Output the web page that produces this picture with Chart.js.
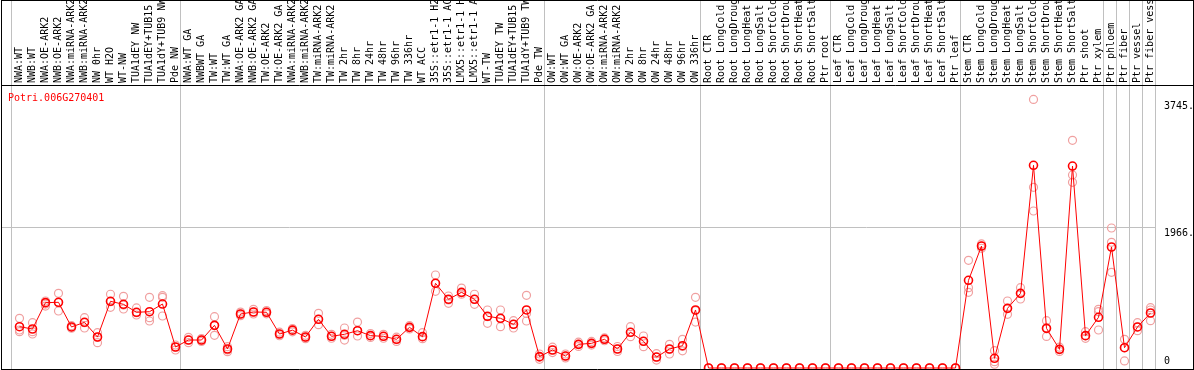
<!DOCTYPE html>
<html><head><meta charset="utf-8">
<script src="https://cdn.jsdelivr.net/npm/chart.js@4/dist/chart.umd.min.js"></script>
<style>html,body{margin:0;padding:0;background:#fff;overflow:hidden}canvas{display:block}</style>
</head><body>
<canvas id="c" width="1194" height="370"></canvas>
<script>
// ---------------- data ----------------
const geneTitle = 'Potri.006G270401';

const categories = [
  'NWA:WT','NWB:WT','NWA:OE-ARK2','NWB:OE-ARK2','NWA:miRNA-ARK2','NWB:miRNA-ARK2','NW 0hr','WT H2O','WT-NW',
  'TUA1dEY NW','TUA1dEY+TUB15','TUA1dY+TUB9 NW','Pde NW',
  'NWA:WT GA','NWBWT GA','TW:WT','TW:WT GA','NWA:OE-ARK2 GA','NWB:OE-ARK2 GA','TW:OE-ARK2','TW:OE-ARK2 GA',
  'NWA:miRNA-ARK2','NWB:miRNA-ARK2','TW:miRNA-ARK2','TW:miRNA-ARK2','TW 2hr','TW 8hr','TW 24hr','TW 48hr',
  'TW 96hr','TW 336hr','WT ACC','35S::etr1-1 H2','35S::etr1-1 AC','LMX5::etr1-1 H','LMX5::etr1-1 A',
  'WT-TW','TUA1dEY TW','TUA1dEY+TUB15','TUA1dY+TUB9 TW','Pde TW',
  'OW:WT','OW:WT GA','OW:OE-ARK2','OW:OE-ARK2 GA','OW:miRNA-ARK2','OW:miRNA-ARK2','OW 2hr','OW 8hr',
  'OW 24hr','OW 48hr','OW 96hr','OW 336hr',
  'Root CTR','Root LongCold','Root LongDroug','Root LongHeat','Root LongSalt','Root ShortCold',
  'Root ShortDrou','Root ShortHeat','Root ShortSalt','Ptr root',
  'Leaf CTR','Leaf LongCold','Leaf LongDroug','Leaf LongHeat','Leaf LongSalt','Leaf ShortCold',
  'Leaf ShortDrou','Leaf ShortHeat','Leaf ShortSalt','Ptr leaf',
  'Stem CTR','Stem LongCold','Stem LongDroug','Stem LongHeat','Stem LongSalt','Stem ShortCold',
  'Stem ShortDrou','Stem ShortHeat','Stem ShortSalt','Ptr shoot','Ptr xylem',
  'Ptr phloem','Ptr fiber','Ptr vessel','Ptr fiber vess'
];

// index of first column of each group (last entry = end)
const groupStarts = [0, 13, 41, 53, 63, 73, 84, 85, 86, 87, 88];

const means = [
  576, 544, 911, 916, 572, 637, 432, 930, 888, 777, 785, 892, 293,
  390, 390, 595, 265, 753, 781, 777, 474, 528, 432, 679, 442, 470, 520, 451, 442, 400, 567, 437,
  1181, 958, 1055, 958, 721, 693, 609, 809, 158,
  251, 167, 330, 344, 400, 265, 498, 372, 153, 265, 311, 809,
  0, 0, 0, 0, 0, 0, 0, 0, 0, 0,
  0, 0, 0, 0, 0, 0, 0, 0, 0, 0,
  1223, 1701, 135, 832, 1041, 2826, 553, 260, 2816, 451, 707,
  1687, 283, 572, 767
];

const rep1 = [
  693, 632, 934, 1041, 590, 701, 492, 1028, 1000, 837, 986, 1008, 321,
  428, 410, 715, 297, 780, 818, 800, 500, 550, 456, 763, 470, 558, 641, 480, 470, 430, 590, 492,
  1297, 1004, 1115, 1028, 809, 809, 660, 1014, 195,
  290, 195, 360, 370, 420, 300, 576, 446, 200, 330, 400, 986,
  0, 0, 0, 0, 0, 0, 0, 0, 0, 0,
  0, 0, 0, 0, 0, 0, 0, 0, 0, 0,
  1502, 1730, 241, 934, 1120, 3745, 660, 290, 3175, 506, 818,
  1952, 400, 632, 841
];
const rep2 = [
  530, 506, 892, 911, 572, 632, 428, 925, 878, 771, 701, 986, 289,
  390, 390, 595, 251, 753, 781, 777, 474, 528, 428, 679, 442, 456, 520, 451, 442, 400, 567, 437,
  1181, 948, 1050, 958, 715, 688, 609, 760, 149,
  251, 167, 330, 344, 400, 265, 498, 372, 150, 260, 300, 799,
  0, 0, 0, 0, 0, 0, 0, 0, 0, 0,
  0, 0, 0, 0, 0, 0, 0, 0, 0, 0,
  1120, 1701, 88, 832, 1041, 2519, 560, 260, 2691, 451, 785,
  1752, 283, 572, 809
];
const rep3 = [
  506, 474, 864, 795, 555, 558, 353, 846, 823, 739, 655, 725, 251,
  353, 370, 456, 227, 730, 753, 755, 450, 505, 409, 604, 415, 390, 446, 425, 415, 370, 545, 409,
  1069, 902, 1028, 888, 623, 576, 558, 655, 121,
  215, 140, 300, 320, 380, 230, 437, 297, 110, 195, 240, 641,
  0, 0, 0, 0, 0, 0, 0, 0, 0, 0,
  0, 0, 0, 0, 0, 0, 0, 0, 0, 0,
  1055, 1670, 52, 749, 962, 2189, 440, 230, 2589, 414, 530,
  1334, 98, 520, 660
];

const yTickValues = [0, 1966, 3745];
const yTickLabels = ['0', '1966.', '3745.'];
const yMax = 3932;

// ---------------- chart ----------------
const MONO = 'DejaVu Sans Mono';
Chart.defaults.font.family = MONO;
Chart.defaults.font.size = 10;
Chart.defaults.color = '#000';

const X_MIN = -1.423, X_MAX = 87.346;

const meanPts = means.map((v, i) => ({x: i, y: v}));
const repPts = [];
[rep1, rep2, rep3].forEach(r => r.forEach((v, i) => repPts.push({x: i, y: v})));

const framePlugin = {
  id: 'frame',
  beforeDatasetsDraw(chart) {
    const {ctx, chartArea, scales} = chart;
    const x = scales.x;
    ctx.save();
    ctx.strokeStyle = '#c0c0c0';
    ctx.lineWidth = 1;
    groupStarts.forEach(g => {
      const px = Math.round(x.getPixelForValue(g - 0.654)) + 0.5;
      ctx.beginPath(); ctx.moveTo(px, 0); ctx.lineTo(px, chartArea.bottom + 1); ctx.stroke();
    });
    ctx.fillStyle = '#ff0000';
    ctx.font = '10px "' + MONO + '"';
    ctx.textBaseline = 'middle';
    ctx.textAlign = 'left';
    ctx.fillText(geneTitle, 8, 98);
    ctx.restore();
  },
  afterDatasetsDraw(chart) {
    const {ctx, chartArea, width} = chart;
    ctx.save();
    ctx.strokeStyle = '#000';
    ctx.lineWidth = 1;
    const b = chartArea.bottom + 1.5;
    const t = chartArea.top - 0.5;
    ctx.beginPath();
    ctx.moveTo(1.5, 0.5); ctx.lineTo(width - 0.5, 0.5);
    ctx.moveTo(1.5, 0); ctx.lineTo(1.5, b);
    ctx.moveTo(width - 0.5, 0); ctx.lineTo(width - 0.5, b);
    ctx.moveTo(1, b); ctx.lineTo(width, b);
    ctx.moveTo(1, t); ctx.lineTo(width, t);
    ctx.stroke();
    ctx.restore();
  }
};

new Chart(document.getElementById('c'), {
  data: {
    datasets: [
      {
        type: 'line',
        label: 'mean',
        data: meanPts,
        order: 0,
        borderColor: '#ff0000',
        borderWidth: 1,
        pointRadius: 4,
        pointBorderWidth: 1.6,
        pointBorderColor: '#ff0000',
        pointBackgroundColor: 'rgba(0,0,0,0)',
        tension: 0,
        clip: false
      },
      {
        type: 'scatter',
        label: 'replicates',
        data: repPts,
        order: 1,
        pointRadius: 4,
        pointBorderWidth: 1.2,
        pointBorderColor: '#f0a0a0',
        pointBackgroundColor: 'rgba(0,0,0,0)',
        clip: false
      }
    ]
  },
  options: {
    responsive: false,
    animation: false,
    devicePixelRatio: 1,
    events: [],
    layout: {autoPadding: false, padding: {left: 1, right: 0, top: 0, bottom: 2}},
    plugins: {legend: {display: false}, tooltip: {enabled: false}, title: {display: false}},
    scales: {
      x: {
        type: 'linear', display: false, min: X_MIN, max: X_MAX
      },
      xLabels: {
        type: 'linear', position: 'top', axis: 'x', min: X_MIN, max: X_MAX,
        afterBuildTicks: s => { s.ticks = categories.map((_, i) => ({value: i})); },
        afterFit: s => { s.height = 86; s.paddingLeft = 0; s.paddingRight = 0; },
        grid: {display: false, drawTicks: false},
        border: {display: false},
        ticks: {
          autoSkip: false, minRotation: 90, maxRotation: 90, padding: 3,
          font: {family: MONO, size: 10, lineHeight: 0}, color: '#000',
          callback: (v, i) => categories[i]
        }
      },
      y: {
        type: 'linear', position: 'right', min: 0, max: yMax,
        afterBuildTicks: s => { s.ticks = yTickValues.map(v => ({value: v})); },
        afterFit: s => { s.width = 39; s.paddingTop = 0; s.paddingBottom = 0; },
        grid: {
          drawTicks: false,
          color: c => (c.tick && c.tick.value === 1966) ? '#c0c0c0' : 'rgba(0,0,0,0)',
          lineWidth: 1
        },
        border: {display: false},
        ticks: {
          padding: 9, color: '#000',
          font: {family: MONO, size: 10, lineHeight: 1.3},
          callback: (v, i) => i === 0 ? [yTickLabels[i], ''] : ['', yTickLabels[i]]
        }
      }
    }
  },
  plugins: [framePlugin]
});
</script>
</body></html>
